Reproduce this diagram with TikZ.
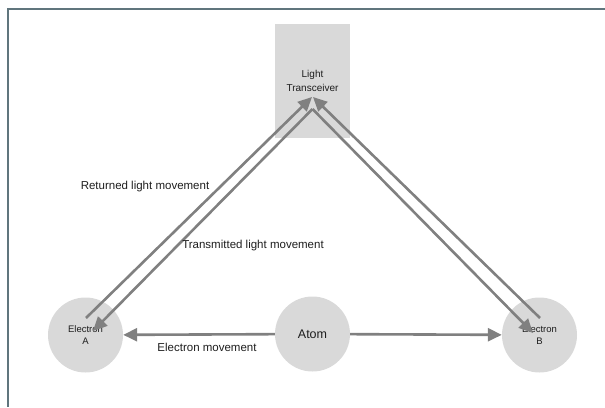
\documentclass[tikz,border=0pt]{standalone}
\usepackage{fontspec}
\setmainfont{Liberation Sans}
\usetikzlibrary{positioning}
\usetikzlibrary{calc}
\usetikzlibrary{arrows.meta}
\definecolor{shade}{RGB}{217,217,217}
\definecolor{arrgray}{RGB}{128,128,128}
\definecolor{framecol}{RGB}{96,117,125}
\definecolor{ink}{RGB}{30,30,30}
\tikzset{part/.style={circle, fill=shade, minimum size=75pt, inner sep=0pt, align=center, text=ink, font=\fontsize{9.5}{12}\selectfont}}
\tikzset{mv/.style={draw=arrgray, line width=2.6pt, -{Triangle[length=14pt,width=13pt]}}}
\tikzset{lab/.style={text=ink, font=\fontsize{11.5}{14}\selectfont}}

\begin{document}
\begin{tikzpicture}[x=1pt,y=-1pt]
\useasboundingbox (0,0) rectangle (605,407);
\draw[framecol, line width=1.2pt] (605,9) -- (8,9) -- (8,407);

\node[fill=shade, minimum width=75pt, minimum height=114pt, align=center, text=ink, font=\fontsize{10}{14}\selectfont] (lt) at (312.5,81) {Light\\Transceiver};
\node[part] (eA) at (85.5,335) {Electron\\A};
\node[part, font=\fontsize{12.5}{15}\selectfont] (atom) at (312.5,334) {Atom};
\node[part] (eB) at (539.5,335) {Electron\\B};

\coordinate (tip) at ($(lt.center)+(0,16)$);
\coordinate (apex) at ($(lt.center)+(0,28)$);
\coordinate (aOut) at ($(eA.center)+(0.5,-17)$);
\coordinate (aIn) at ($(eA.center)+(7.5,-4)$);
\coordinate (bOut) at ($(eB.center)+(0.5,-17)$);
\coordinate (bIn) at ($(eB.center)+(-6.5,-2)$);

\draw[mv] (atom) -- (eA);
\draw[mv] (atom) -- (eB);

\draw[mv] (aOut) -- ($(tip)+(-0.5,0)$);
\draw[mv] (apex) -- (aIn);
\draw[mv] (bOut) -- ($(tip)+(0.5,0)$);
\draw[mv] (apex) -- (bIn);

\node[lab] (ret) at (145,187) {Returned light movement};
\node[lab] (tra) at (253,246) {Transmitted light movement};
\node[lab] (emv) at (207,347) {Electron movement};
\end{tikzpicture}
\end{document}
